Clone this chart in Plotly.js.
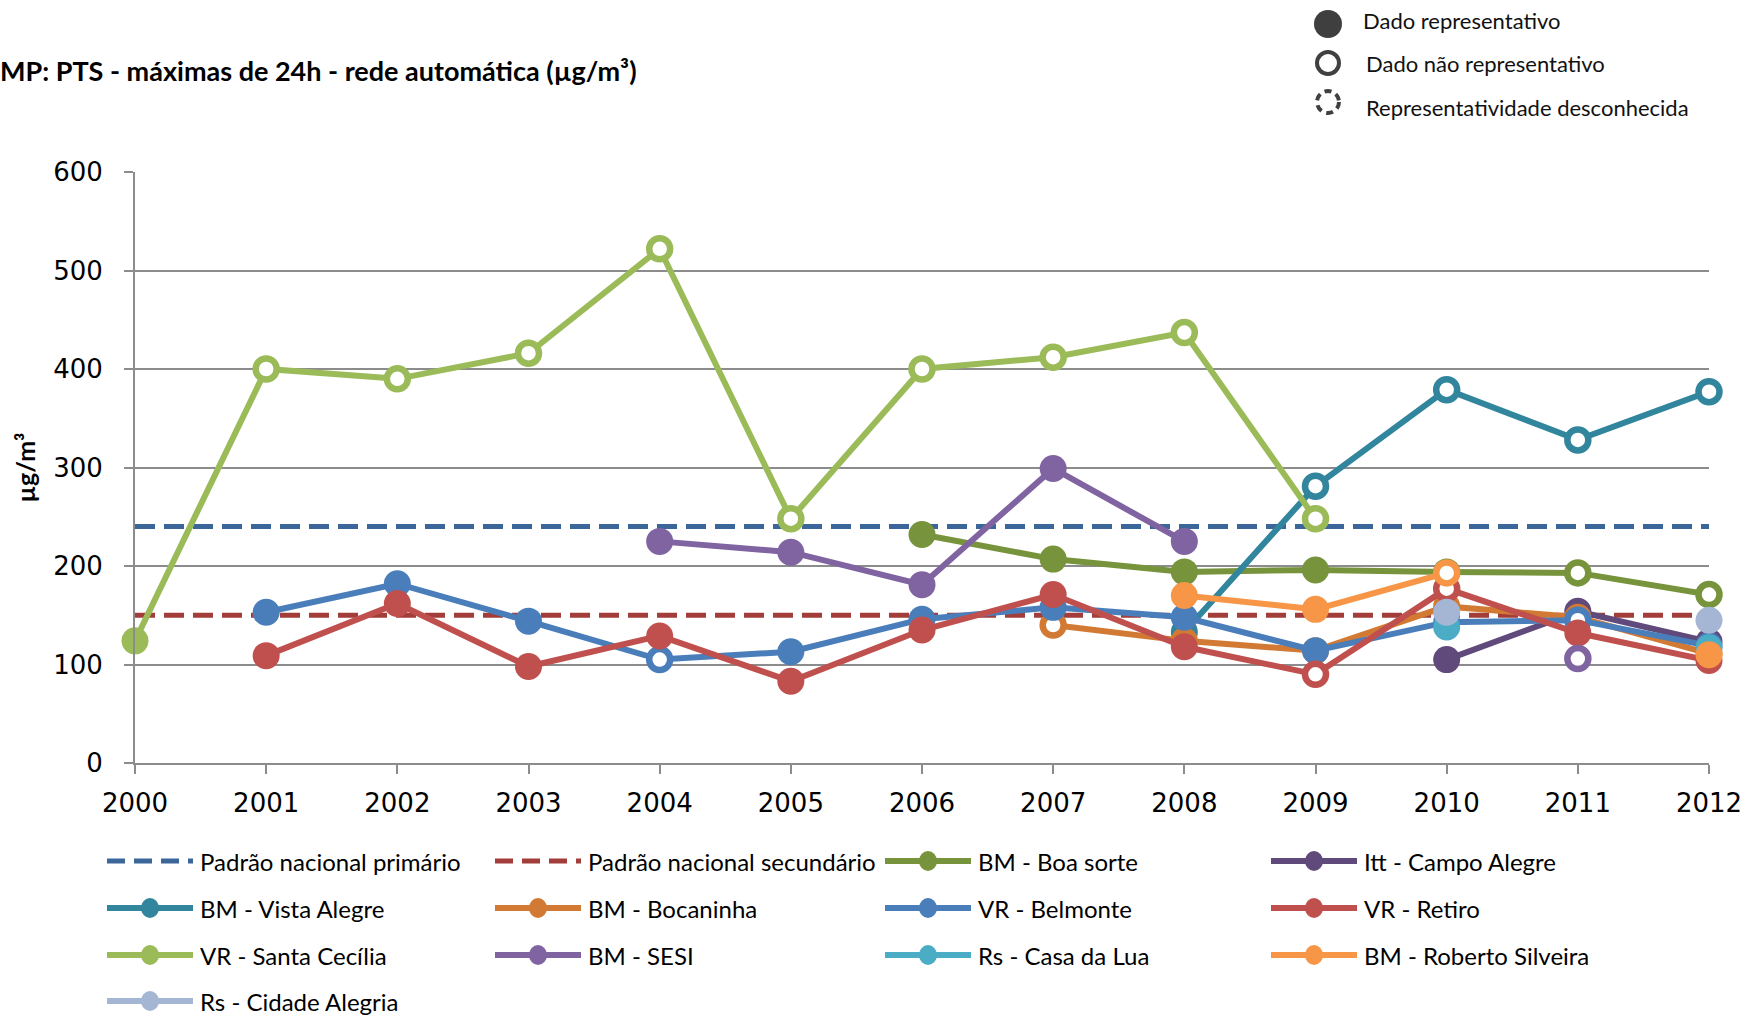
<!DOCTYPE html>
<html>
<head>
<meta charset="utf-8">
<script src="https://cdn.plot.ly/plotly-3.0.1.min.js"></script>
<style>
html,body{margin:0;padding:0;background:#ffffff;}
#chart{width:1764px;height:1016px;}
</style>
</head>
<body>
<div id="chart"></div>
<script>
// ---------------- DATA ----------------
const years = [2000, 2001, 2002, 2003, 2004, 2005, 2006, 2007, 2008, 2009, 2010, 2011, 2012];
const yTicks = [0, 100, 200, 300, 400, 500, 600];

const padraoPrimario   = [240, 240, 240, 240, 240, 240, 240, 240, 240, 240, 240, 240, 240];
const padraoSecundario = [150, 150, 150, 150, 150, 150, 150, 150, 150, 150, 150, 150, 150];

// values (µg/m³); rep: 1 = dado representativo (filled), 0 = dado não representativo (open)
const boaSorte        = [null, null, null, null, null, null, 232, 207, 194, 196, 194, 193, 171];
const boaSorteRep     = [null, null, null, null, null, null, 1, 1, 1, 1, 1, 0, 0];
const campoAlegre     = [null, null, null, null, null, null, null, null, null, null, 105, 154, 123];
const campoAlegreRep  = [null, null, null, null, null, null, null, null, null, null, 1, 1, 1];
const vistaAlegre     = [null, null, null, null, null, null, null, null, 133, 281, 379, 328, 377];
const vistaAlegreRep  = [null, null, null, null, null, null, null, null, 1, 0, 0, 0, 0];
const bocaninha       = [null, null, null, null, null, null, null, 140, 124, 114, 159, 148, 111];
const bocaninhaRep    = [null, null, null, null, null, null, null, 0, 1, 1, 1, 1, 1];
const belmonte        = [null, 153, 182, 144, 105, 113, 146, 158, 148, 114, 143, 145, 119];
const belmonteRep     = [null, 1, 1, 1, 0, 1, 1, 1, 1, 1, 1, 0, 1];
const retiro          = [null, 109, 162, 98, 129, 83, 135, 171, 118, 90, 177, 132, 104];
const retiroRep       = [null, 1, 1, 1, 1, 1, 1, 1, 1, 0, 0, 1, 1];
const santaCecilia    = [124, 400, 390, 416, 522, 248, 400, 412, 437, 248, null, null, null];
const santaCeciliaRep = [1, 0, 0, 0, 0, 0, 0, 0, 0, 0, null, null, null];
const sesi            = [null, null, null, null, 225, 214, 181, 299, 225, null, null, 106, null];
const sesiRep         = [null, null, null, null, 1, 1, 1, 1, 1, null, null, 0, null];
const casaDaLua       = [null, null, null, null, null, null, null, null, null, null, 138, null, 117];
const casaDaLuaRep    = [null, null, null, null, null, null, null, null, null, null, 1, null, 1];
const robertoSilveira    = [null, null, null, null, null, null, null, null, 170, 156, 193, null, 110];
const robertoSilveiraRep = [null, null, null, null, null, null, null, null, 1, 1, 0, null, 1];
const cidadeAlegria    = [null, null, null, null, null, null, null, null, null, null, 153, null, 145];
const cidadeAlegriaRep = [null, null, null, null, null, null, null, null, null, null, 1, null, 1];

const seriesNames = [
  "Padrão nacional primário", "Padrão nacional secundário", "BM - Boa sorte", "Itt - Campo Alegre",
  "BM - Vista Alegre", "BM - Bocaninha", "VR - Belmonte", "VR - Retiro",
  "VR - Santa Cecília", "BM - SESI", "Rs - Casa da Lua", "BM - Roberto Silveira",
  "Rs - Cidade Alegria"
];
const repLegendLabels = ["Dado representativo", "Dado não representativo", "Representatividade desconhecida"];
const chartTitle = "MP: PTS - máximas de 24h - rede automática (µg/m³)";
const yTitle = "µg/m³";

// ---------------- STYLE ----------------
const colors = {
  "Padrão nacional primário": "#3B6699",
  "Padrão nacional secundário": "#A33D3A",
  "BM - Boa sorte": "#77933C",
  "Itt - Campo Alegre": "#604A7B",
  "BM - Vista Alegre": "#31859C",
  "BM - Bocaninha": "#D27A33",
  "VR - Belmonte": "#4A7EBB",
  "VR - Retiro": "#C0504D",
  "VR - Santa Cecília": "#9BBB59",
  "BM - SESI": "#8064A2",
  "Rs - Casa da Lua": "#4BACC6",
  "BM - Roberto Silveira": "#F79646",
  "Rs - Cidade Alegria": "#A5B6D5"
};
const dataByName = {
  "Padrão nacional primário": [padraoPrimario, null],
  "Padrão nacional secundário": [padraoSecundario, null],
  "BM - Boa sorte": [boaSorte, boaSorteRep],
  "Itt - Campo Alegre": [campoAlegre, campoAlegreRep],
  "BM - Vista Alegre": [vistaAlegre, vistaAlegreRep],
  "BM - Bocaninha": [bocaninha, bocaninhaRep],
  "VR - Belmonte": [belmonte, belmonteRep],
  "VR - Retiro": [retiro, retiroRep],
  "VR - Santa Cecília": [santaCecilia, santaCeciliaRep],
  "BM - SESI": [sesi, sesiRep],
  "Rs - Casa da Lua": [casaDaLua, casaDaLuaRep],
  "BM - Roberto Silveira": [robertoSilveira, robertoSilveiraRep],
  "Rs - Cidade Alegria": [cidadeAlegria, cidadeAlegriaRep]
};

const W = 1764, H = 1016;
const M = {l: 135, r: 55, t: 172, b: 253};
const PW = W - M.l - M.r, PH = H - M.t - M.b;
const px = x => (x - M.l) / PW;
const py = y => (M.t + PH - y) / PH;

const DASH = "20px,9px";
const LINE_W = 6;

const traces = seriesNames.map(name => {
  const [vals, rep] = dataByName[name];
  const c = colors[name];
  if (!rep) {
    return {
      x: years, y: vals, name: name, type: "scatter", mode: "lines",
      line: {color: c, width: 5, dash: DASH}, showlegend: false, hoverinfo: "y+name"
    };
  }
  return {
    x: years, y: vals, name: name, type: "scatter", mode: "lines+markers",
    connectgaps: false, cliponaxis: false, showlegend: false,
    line: {color: c, width: LINE_W},
    marker: {
      symbol: "circle",
      opacity: 1,
      size: rep.map(r => r === 0 ? 21 : 27),
      color: rep.map(r => r === 0 ? "#ffffff" : c),
      line: {color: c, width: rep.map(r => r === 0 ? 6.5 : 0)}
    },
    hoverinfo: "x+y+name"
  };
});

// ---------------- CUSTOM LEGENDS ----------------
const shapes = [];
const annotations = [];
const legendFont = {family: "Lato, 'Open Sans', sans-serif", size: 24, color: "#000000"};
const colX = [107, 495, 885, 1271];
const rowY = [861, 908, 955, 1001];
const symLen = 86;
seriesNames.forEach((name, i) => {
  const col = i % 4, row = Math.floor(i / 4);
  const x0 = colX[col], y = rowY[row];
  const c = colors[name];
  const isRef = !dataByName[name][1];
  shapes.push({
    type: "line", xref: "paper", yref: "paper",
    x0: px(x0), x1: px(x0 + symLen), y0: py(y), y1: py(y),
    line: {color: c, width: isRef ? 5 : 6, dash: isRef ? "18px,9px" : "solid"}
  });
  if (!isRef) {
    shapes.push({
      type: "circle", xref: "paper", yref: "paper",
      xsizemode: "pixel", ysizemode: "pixel",
      xanchor: px(x0 + symLen / 2), yanchor: py(y),
      x0: -9, x1: 9, y0: -10, y1: 10,
      fillcolor: c, line: {width: 0}
    });
  }
  annotations.push({
    text: name, xref: "paper", yref: "paper",
    x: px(x0 + symLen + 5), y: py(y), xanchor: "left", yanchor: "middle",
    showarrow: false, font: legendFont
  });
});

// representativeness legend (top right)
const repFont = {family: "Lato, 'Open Sans', sans-serif", size: 22, color: "#111111"};
const repTextY = [21, 64, 107];
const repSymY = [24, 63, 102];
const repTextX = [1361, 1364, 1364];
const repStyles = [
  {fillcolor: "#3F3F3F", line: {width: 0}, r: 14},
  {fillcolor: "rgba(0,0,0,0)", line: {color: "#404040", width: 4}, r: 11},
  {fillcolor: "rgba(0,0,0,0)", line: {color: "#404040", width: 4, dash: "7px,5px"}, r: 11}
];
repLegendLabels.forEach((lab, i) => {
  const s = repStyles[i];
  shapes.push({
    type: "circle", xref: "paper", yref: "paper",
    xsizemode: "pixel", ysizemode: "pixel",
    xanchor: px(1328), yanchor: py(repSymY[i]),
    x0: -s.r, x1: s.r, y0: -s.r, y1: s.r,
    fillcolor: s.fillcolor, line: s.line
  });
  annotations.push({
    text: lab, xref: "paper", yref: "paper",
    x: px(repTextX[i]), y: py(repTextY[i]), xanchor: "left", yanchor: "middle",
    showarrow: false, font: repFont
  });
});

const tickFont = {family: "'DejaVu Sans', Verdana, sans-serif", size: 26, color: "#000000"};

const layout = {
  width: W, height: H,
  margin: M,
  paper_bgcolor: "#ffffff", plot_bgcolor: "#ffffff",
  showlegend: false,
  title: {
    text: chartTitle,
    font: {family: "Lato, sans-serif", size: 27, weight: "bold", color: "#000000"},
    x: 0, xref: "container", xanchor: "left",
    y: 1 - 72 / H, yref: "container", yanchor: "middle"
  },
  xaxis: {
    range: [2000, 2012], tickmode: "array", tickvals: years, ticktext: years.map(String),
    showgrid: false, zeroline: false,
    showline: true, linecolor: "#8C8C8C", linewidth: 2,
    ticks: "outside", ticklen: 9, tickwidth: 2, tickcolor: "#8C8C8C",
    ticklabelstandoff: 7,
    tickfont: tickFont, fixedrange: true
  },
  yaxis: {
    range: [0, 600], tickmode: "array", tickvals: yTicks,
    showgrid: true, gridcolor: "#8C8C8C", gridwidth: 2, zeroline: false,
    showline: true, linecolor: "#8C8C8C", linewidth: 2,
    ticks: "outside", ticklen: 9, tickwidth: 2, tickcolor: "#8C8C8C",
    ticklabelstandoff: 16,
    tickfont: tickFont, fixedrange: true,
    title: {text: yTitle, standoff: 10, font: {family: "Lato, sans-serif", size: 25, weight: "bold", color: "#000000"}}
  },
  shapes: shapes,
  annotations: annotations
};

Plotly.newPlot("chart", traces, layout, {displayModeBar: false, staticPlot: true});
</script>
</body>
</html>
